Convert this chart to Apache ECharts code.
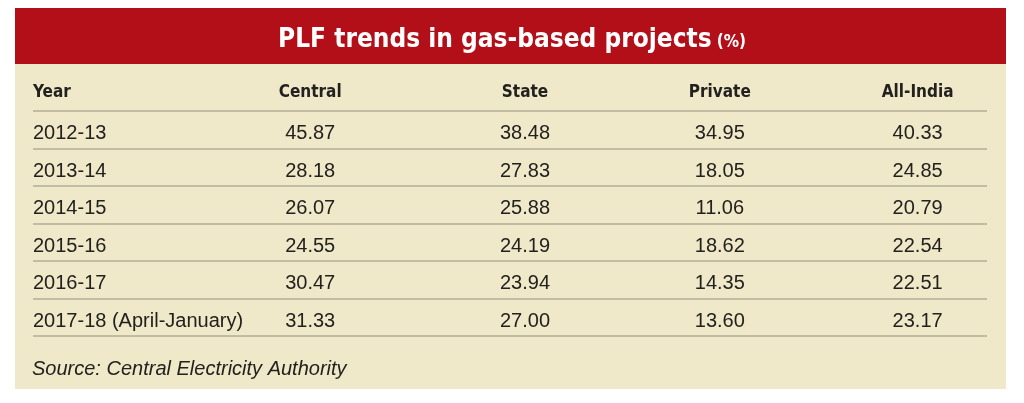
<!DOCTYPE html>
<html>
<head>
<meta charset="utf-8">
<script src="https://cdn.jsdelivr.net/npm/echarts@6/dist/echarts.min.js"></script>
<style>
html, body { margin: 0; padding: 0; background: #fff; }
#main { width: 1024px; height: 403px; }
</style>
</head>
<body>
<div id="main"></div>
<script>
// table content
var header = 'Year';
var years = ['2012-13', '2013-14', '2014-15', '2015-16', '2016-17', '2017-18 (April-January)'];
var columns = ['Central', 'State', 'Private', 'All-India'];
var central = [45.87, 28.18, 26.07, 24.55, 30.47, 31.33];
var state = [38.48, 27.83, 25.88, 24.19, 23.94, 27.00];
var privateSector = [34.95, 18.05, 11.06, 18.62, 14.35, 13.60];
var allIndia = [40.33, 24.85, 20.79, 22.54, 22.51, 23.17];

var colValues = [central, state, privateSector, allIndia];
// small horizontal nudges so columns sit where the original puts them
var colShift = [-9, 15, 19, 26];

var FONT = '"Liberation Sans", Arial, sans-serif';
var COND = '"DejaVu Sans Condensed", "Liberation Sans", Arial, sans-serif';
var textColor = '#23211e';

var myChart = echarts.init(document.getElementById('main'));

var series = columns.map(function (name, c) {
    var data = [{
        value: [name, header],
        label: { fontWeight: 'bold', fontFamily: COND, fontSize: 17, offset: [colShift[c], 0] }
    }];
    colValues[c].forEach(function (v, i) {
        data.push({ value: [name, years[i], v] });
    });
    return {
        type: 'scatter',
        name: name,
        symbolSize: 1,
        silent: true,
        itemStyle: { color: 'transparent', opacity: 1 },
        label: {
            show: true,
            position: 'inside',
            offset: [colShift[c], 4],
            color: textColor,
            fontFamily: FONT,
            fontSize: 20,
            formatter: function (p) {
                return p.value.length > 2 ? p.value[2].toFixed(2) : p.value[0];
            }
        },
        data: data
    };
});

option = {
    backgroundColor: '#fff',
    animation: false,
    graphic: [
        {
            type: 'rect',
            z: -10,
            shape: { x: 15, y: 64, width: 991, height: 325 },
            style: { fill: '#efe9ca' }
        },
        {
            type: 'rect',
            z: -10,
            shape: { x: 15, y: 8, width: 991, height: 56 },
            style: { fill: '#b20f18' }
        }
    ],
    title: [
        {
            text: '{a|PLF trends in gas-based projects} {b|(%)}',
            left: 'center',
            top: 22,
            textStyle: {
                rich: {
                    a: { color: '#fff', fontFamily: COND, fontWeight: 'bold', fontSize: 26 },
                    b: { color: '#fff', fontFamily: COND, fontWeight: 'bold', fontSize: 17, padding: [5, 0, 0, 0] }
                }
            }
        },
        {
            text: 'Source: Central Electricity Authority',
            left: 27,
            top: 354,
            textStyle: {
                color: textColor,
                fontFamily: FONT,
                fontStyle: 'italic',
                fontWeight: 'normal',
                fontSize: 20
            }
        }
    ],
    grid: { left: 33, right: 37, top: 73.5, height: 262.5 },
    xAxis: {
        type: 'category',
        data: [header].concat(columns),
        axisLine: { show: false },
        axisTick: { show: false },
        axisLabel: { show: false },
        splitLine: { show: false }
    },
    yAxis: {
        type: 'category',
        inverse: true,
        data: [header].concat(years),
        axisLine: { show: false },
        axisTick: { show: false },
        axisLabel: {
            inside: true,
            margin: 0,
            formatter: function (v) {
                return v === header ? '{h|' + v + '}' : '{y|' + v + '}';
            },
            rich: {
                h: { color: textColor, fontFamily: COND, fontWeight: 'bold', fontSize: 17 },
                y: { color: textColor, fontFamily: FONT, fontSize: 20, padding: [8, 0, 0, 0] }
            }
        },
        splitLine: {
            show: true,
            interval: function (index) { return index > 0; },
            lineStyle: { color: '#b3ae95', width: 1.5 }
        }
    },
    series: series
};
myChart.setOption(option);
</script>
</body>
</html>
